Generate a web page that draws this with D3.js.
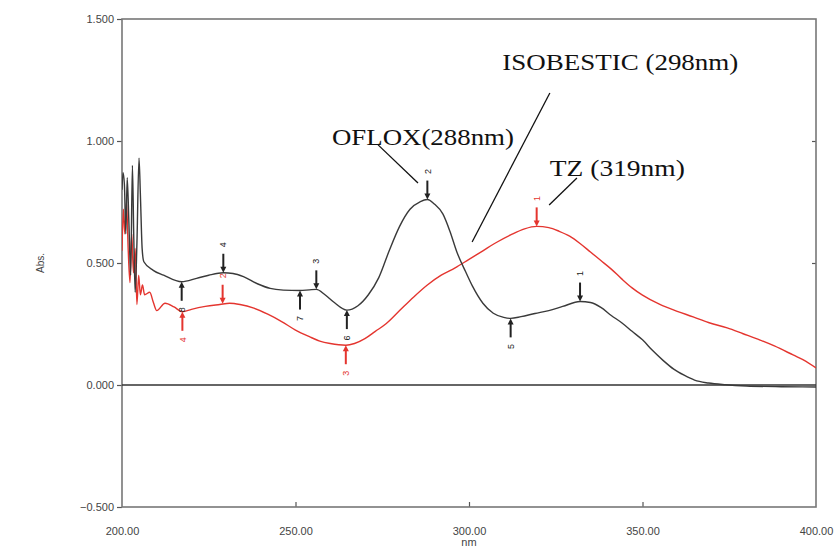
<!DOCTYPE html>
<html>
<head>
<meta charset="utf-8">
<script src="https://cdnjs.cloudflare.com/ajax/libs/d3/7.8.5/d3.min.js"></script>
<style>
body { margin: 0; background: #fff; }
svg { display: block; }
</style>
</head>
<body>
<div id="container"></div>
<script>
var width = 836, height = 548;
var plotLeft = 122, plotRight = 816, plotTop = 19, plotBottom = 507;

// OFLOX spectrum (black), [nm, Abs]
var oflox = [
	[200.0, 0.80], [200.3, 0.87], [200.7, 0.82], [201.1, 0.62], [201.5, 0.85],
	[202.0, 0.66], [202.5, 0.45], [203.0, 0.90], [203.4, 0.60], [203.8, 0.38],
	[204.3, 0.58], [204.9, 0.93], [205.3, 0.78], [205.8, 0.56], [206.3, 0.505],
	[209, 0.47], [212, 0.45], [217.2, 0.423], [221.5, 0.437], [225, 0.45],
	[229.2, 0.46], [232, 0.457], [235, 0.444], [239, 0.415], [242.7, 0.396],
	[246.5, 0.389], [251.3, 0.387], [254, 0.39], [256, 0.392], [258.5, 0.37],
	[261, 0.34], [264.8, 0.307], [268, 0.325], [271, 0.37], [274, 0.44],
	[277, 0.55], [280, 0.65], [283, 0.72], [286, 0.752], [288, 0.76],
	[290, 0.742], [292.5, 0.70], [294.5, 0.63], [296.5, 0.545], [299, 0.465],
	[301, 0.405], [304, 0.335], [307, 0.294], [310, 0.277], [312, 0.273],
	[315, 0.28], [319, 0.293], [323, 0.305], [327, 0.322], [332, 0.342],
	[335, 0.338], [338, 0.318], [341, 0.285], [344, 0.255], [347, 0.22],
	[350, 0.185], [353, 0.14], [356, 0.10], [359, 0.065], [362, 0.04],
	[365, 0.02], [369, 0.008], [374, 0.001], [380, -0.004], [390, -0.007],
	[400, -0.008]
];

// TZ spectrum (red), [nm, Abs]
var tz = [
	[200.0, 0.55], [200.4, 0.72], [200.8, 0.62], [201.3, 0.75], [201.8, 0.55],
	[202.3, 0.42], [202.8, 0.62], [203.3, 0.46], [203.8, 0.56], [204.3, 0.33],
	[204.8, 0.45], [205.3, 0.37], [205.9, 0.41], [206.5, 0.37], [208, 0.38],
	[209, 0.34], [210, 0.305], [212.4, 0.335], [215, 0.32], [217.4, 0.30],
	[220, 0.31], [224, 0.322], [228.2, 0.33], [231, 0.335], [234, 0.33],
	[238, 0.315], [242, 0.29], [246, 0.26], [250, 0.225], [254, 0.198],
	[257, 0.18], [260, 0.17], [264.5, 0.163], [267, 0.17], [270, 0.19],
	[273, 0.22], [276, 0.25], [280, 0.305], [284, 0.36], [288, 0.41],
	[292, 0.45], [296, 0.48], [300, 0.515], [304, 0.55], [308, 0.585],
	[312, 0.615], [316, 0.64], [319.5, 0.65], [323, 0.645], [326, 0.63],
	[329, 0.61], [332, 0.58], [335, 0.545], [338, 0.51], [341, 0.475],
	[344, 0.435], [347, 0.398], [350, 0.368], [355, 0.33], [360, 0.302],
	[364.6, 0.279], [369, 0.256], [374.4, 0.234], [379, 0.21], [383.9, 0.184],
	[388, 0.16], [393.4, 0.123], [397, 0.098], [400, 0.07]
];

// peak pick marks: [nm, Abs, label]
var ofloxPeaks = [[332, 0.342, "1"], [288, 0.76, "2"], [256, 0.392, "3"], [229.2, 0.46, "4"]];
var ofloxValleys = [[312, 0.273, "5"], [264.8, 0.307, "6"], [251.3, 0.387, "7"], [217.2, 0.423, "8"]];
var tzPeaks = [[319.5, 0.65, "1"], [229, 0.333, "2"]];
var tzValleys = [[264.5, 0.163, "3"], [217.4, 0.30, "4"]];

var xTicks = [200, 250, 300, 350, 400];
var yTicks = [-0.5, 0, 0.5, 1.0, 1.5];

// callouts: text, text anchor point, leader start, leader end
var callouts = [
	{text: "ISOBESTIC (298nm)", at: [309.6, 1.293], from: [323.3, 1.197], to: [300.9, 0.586], len: 236},
	{text: "OFLOX(288nm)", at: [260.5, 0.984], from: [273.8, 0.984], to: [285.3, 0.828], len: 182},
	{text: "TZ (319nm)", at: [323.3, 0.857], from: [331.1, 0.848], to: [323.1, 0.738], len: 135}
];

var x = d3.scaleLinear().domain([200, 400]).range([plotLeft, plotRight]);
var y = d3.scaleLinear().domain([-0.5, 1.5]).range([plotBottom, plotTop]);

var line = d3.line()
	.x(function(d){ return x(d[0]); })
	.y(function(d){ return y(d[1]); })
	.curve(d3.curveMonotoneX);

function drawAxes(svg) {
	var yAxis = d3.axisLeft(y).tickValues(yTicks).tickSize(5).tickPadding(3)
		.tickFormat(d3.format(".3f"));
	var gy = svg.append('g').attr('transform', 'translate(' + plotLeft + ',0)').call(yAxis);
	var xAxis = d3.axisBottom(x).tickValues(xTicks).tickSize(-5).tickPadding(20)
		.tickFormat(d3.format(".2f"));
	var gx = svg.append('g').attr('transform', 'translate(0,' + plotBottom + ')').call(xAxis);
	var gr = svg.append('g').attr('transform', 'translate(' + plotRight + ',0)')
		.call(d3.axisRight(y).tickValues([0.5, 1.0]).tickSize(-4).tickFormat(''));
	[gx, gy, gr].forEach(function(g){
		g.select('.domain').remove();
		g.selectAll('line').attr('stroke', '#555').attr('stroke-width', 1.2);
		g.selectAll('text').attr('fill', '#444')
			.style('font-family', 'Liberation Sans, Arial, sans-serif')
			.style('font-size', '11px');
	});
	gx.selectAll('.tick').filter(function(d){ return d === 200 || d === 400; })
		.select('line').remove();

	svg.append('rect')
		.attr('x', plotLeft).attr('y', plotTop)
		.attr('width', plotRight - plotLeft).attr('height', plotBottom - plotTop)
		.attr('fill', 'none').attr('stroke', '#777').attr('stroke-width', 1.6);

	svg.append('line')
		.attr('x1', plotLeft).attr('x2', plotRight)
		.attr('y1', y(0)).attr('y2', y(0))
		.attr('stroke', '#333').attr('stroke-width', 1.4);

	svg.append('text')
		.attr('transform', 'translate(44,' + y(0.5) + ') rotate(-90)')
		.attr('text-anchor', 'middle')
		.attr('fill', '#444')
		.style('font-family', 'Liberation Sans, Arial, sans-serif')
		.style('font-size', '10px')
		.text('Abs.');

	svg.append('text')
		.attr('x', x(300)).attr('y', 546)
		.attr('text-anchor', 'middle')
		.attr('fill', '#444')
		.style('font-family', 'Liberation Sans, Arial, sans-serif')
		.style('font-size', '11px')
		.text('nm');
}

function drawMarks(g, list, color, up) {
	var sel = g.selectAll(null).data(list).enter().append('g')
		.attr('transform', function(d){ return 'translate(' + x(d[0]) + ',' + y(d[1]) + ')'; });
	var s = up ? -1 : 1;
	sel.append('line')
		.attr('x1', 0).attr('x2', 0)
		.attr('y1', s * 4).attr('y2', s * 19)
		.attr('stroke', color).attr('stroke-width', 2);
	sel.append('path')
		.attr('d', 'M0,0L-3,' + (s * 6) + 'L3,' + (s * 6) + 'Z')
		.attr('fill', color);
	sel.append('text')
		.attr('transform', 'translate(0,' + (s * 28) + ') rotate(-90)')
		.attr('text-anchor', 'middle')
		.attr('dy', '0.35em')
		.attr('fill', color)
		.style('font-family', 'Liberation Sans, Arial, sans-serif')
		.style('font-size', '9px')
		.text(function(d){ return d[2]; });
}

function visualize() {
	var svg = d3.select('#container')
		.append('svg')
		.attr('width', width)
		.attr('height', height);
	svg.append('rect').attr('width', width).attr('height', height).attr('fill', '#fff');

	drawAxes(svg);

	svg.append('clipPath').attr('id', 'plot-clip')
		.append('rect')
		.attr('x', plotLeft).attr('y', plotTop)
		.attr('width', plotRight - plotLeft).attr('height', plotBottom - plotTop);

	var plot = svg.append('g').attr('clip-path', 'url(#plot-clip)');
	plot.append('path')
		.attr('d', line(tz))
		.attr('fill', 'none')
		.attr('stroke', '#e4352f')
		.attr('stroke-width', 1.4);
	plot.append('path')
		.attr('d', line(oflox))
		.attr('fill', 'none')
		.attr('stroke', '#3a3a3a')
		.attr('stroke-width', 1.4);

	var marks = svg.append('g');
	drawMarks(marks, tzPeaks, '#e4352f', true);
	drawMarks(marks, tzValleys, '#e4352f', false);
	drawMarks(marks, ofloxPeaks, '#222', true);
	drawMarks(marks, ofloxValleys, '#222', false);

	var notes = svg.append('g');
	callouts.forEach(function(c){
		notes.append('line')
			.attr('x1', x(c.from[0])).attr('y1', y(c.from[1]))
			.attr('x2', x(c.to[0])).attr('y2', y(c.to[1]))
			.attr('stroke', '#111').attr('stroke-width', 1.3);
		notes.append('text')
			.attr('x', x(c.at[0])).attr('y', y(c.at[1]))
			.attr('textLength', c.len)
			.attr('lengthAdjust', 'spacingAndGlyphs')
			.attr('fill', '#111')
			.style('font-family', 'Liberation Serif, Times New Roman, serif')
			.style('font-size', '23px')
			.text(c.text);
	});
}

window.onload = visualize;
</script>
</body>
</html>
